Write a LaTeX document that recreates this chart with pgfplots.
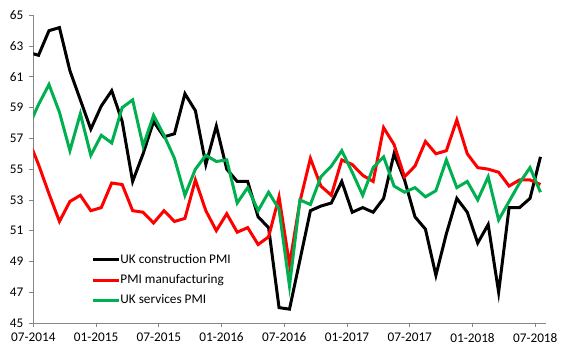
\documentclass[border=0pt]{standalone}
\usepackage{pgfplots}
\pgfplotsset{compat=1.18}
\usepackage{pgfplotstable}
\usepackage{fontspec}
\setmainfont{Carlito}
\definecolor{exgreen}{HTML}{00B050}
\definecolor{axgray}{HTML}{868686}
\pgfplotstableread{
x black red green
-0.5 62.6 57.0 57.7
0.5 62.4 55.3 59.2
1.5 64.0 53.4 60.5
2.5 64.2 51.6 58.7
3.5 61.4 52.9 56.2
4.5 59.5 53.3 58.6
5.5 57.6 52.3 55.9
6.5 59.1 52.5 57.2
7.5 60.1 54.1 56.7
8.5 58.1 54.0 59.0
9.5 54.2 52.3 59.5
10.5 56.0 52.2 56.5
11.5 58.1 51.5 58.5
12.5 57.1 52.3 57.2
13.5 57.3 51.6 55.7
14.5 59.9 51.8 53.3
15.5 58.8 54.3 55.0
16.5 55.3 52.3 55.9
17.5 57.8 51.0 55.5
18.5 55.0 52.1 55.6
19.5 54.2 50.9 52.8
20.5 54.2 51.2 53.8
21.5 51.9 50.1 52.3
22.5 51.2 50.6 53.5
23.5 46.0 53.2 52.4
24.5 45.9 48.8 47.4
25.5 49.1 52.9 53.0
26.5 52.3 55.7 52.7
27.5 52.6 53.9 54.5
28.5 52.8 53.3 55.2
29.5 54.2 55.6 56.2
30.5 52.2 55.3 54.8
31.5 52.5 54.6 53.3
32.5 52.2 54.2 55.1
33.5 53.1 57.7 55.8
34.5 56.0 56.6 53.9
35.5 54.3 54.5 53.5
36.5 51.9 55.2 53.8
37.5 51.1 56.8 53.2
38.5 48.1 56.0 53.6
39.5 50.8 56.2 55.6
40.5 53.1 58.2 53.8
41.5 52.2 56.0 54.2
42.5 50.2 55.1 53.0
43.5 51.4 55.0 54.5
44.5 47.0 54.8 51.7
45.5 52.5 53.9 52.9
46.5 52.5 54.3 54.1
47.5 53.1 54.3 55.1
48.5 55.8 54.0 53.5
}\pmidata
\begin{document}
\begin{tikzpicture}
\useasboundingbox (-33.3bp,-27bp) rectangle (536.7bp,323bp);
\begin{axis}[
  at={(0,0)}, anchor=south west,
  scale only axis,
  width=512.4bp, height=307.7bp,
  xmin=0, xmax=49, ymin=45, ymax=65,
  xtick={0,6,...,48},
  xticklabels={07-2014,01-2015,07-2015,01-2016,07-2016,01-2017,07-2017,01-2018,07-2018},
  ytick={45,47,...,65},
  axis x line=bottom, axis y line=left,
  axis line style={-, draw=axgray, line width=0.8pt},
  tick style={draw=axgray, line width=0.8pt},
  tick align=outside,
  major tick length=4bp,
  /pgf/number format/assume math mode=true,
  tick label style={font=\fontsize{13.3}{16}\selectfont, text=black},
  yticklabel style={xshift=-2.5bp},
  xticklabel style={yshift=-2.5bp},
  legend cell align=left,
  legend image code/.code={\draw[#1] (0bp,0bp) -- (26bp,0bp);},
  legend style={draw=none, fill=none, at={(0.114,0.1397)}, anchor=west,
    inner sep=0pt, row sep=5.7bp, column sep=-1.5bp,
    font=\fontsize{13.3}{16}\selectfont,
    nodes={inner sep=1bp, text height=9.5bp, text depth=3bp}},
  clip=true,
]
\addplot[black, line width=3bp] table[x=x, y=black] {\pmidata};
\addlegendentry{UK construction PMI}
\addplot[red, line width=3bp] table[x=x, y=red] {\pmidata};
\addlegendentry{PMI manufacturing}
\addplot[exgreen, line width=3bp] table[x=x, y=green] {\pmidata};
\addlegendentry{UK services PMI}
\end{axis}
\end{tikzpicture}
\end{document}
